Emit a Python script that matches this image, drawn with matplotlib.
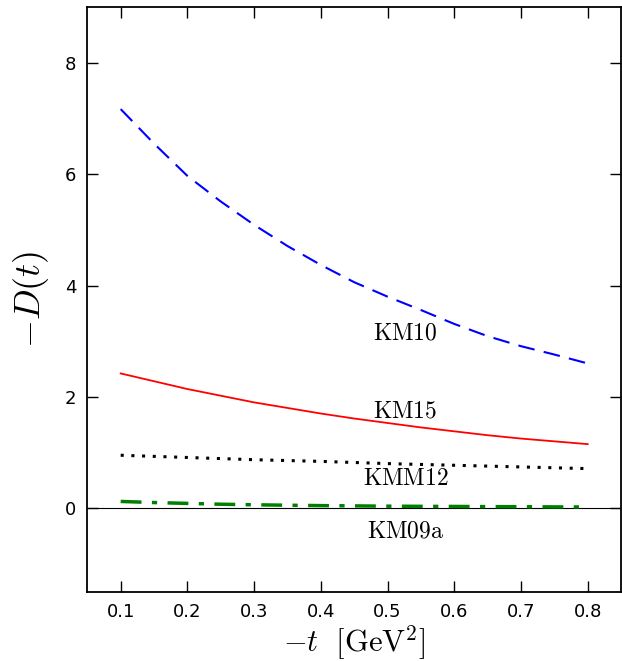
import matplotlib
matplotlib.use("Agg")
import matplotlib.pyplot as plt

plt.rcParams['mathtext.fontset'] = 'cm'

t = [0.1, 0.15, 0.2, 0.25, 0.3, 0.35, 0.4, 0.45, 0.5, 0.55, 0.6, 0.65, 0.7, 0.75, 0.8]
km10 = [7.17, 6.55, 5.97, 5.51, 5.09, 4.71, 4.37, 4.06, 3.80, 3.56, 3.31, 3.09, 2.91, 2.76, 2.60]
km15 = [2.42, 2.28, 2.14, 2.02, 1.90, 1.80, 1.70, 1.61, 1.53, 1.45, 1.38, 1.31, 1.25, 1.20, 1.15]
kmm12 = [0.95, 0.93, 0.91, 0.89, 0.87, 0.855, 0.84, 0.82, 0.80, 0.785, 0.77, 0.755, 0.74, 0.725, 0.71]
km09a = [0.12, 0.10, 0.085, 0.07, 0.06, 0.052, 0.045, 0.04, 0.035, 0.032, 0.03, 0.027, 0.025, 0.022, 0.02]

labels = ['KM10', 'KM15', 'KMM12', 'KM09a']
label_pos = [(0.527, 3.15), (0.527, 1.76), (0.527, 0.54), (0.527, -0.40)]

fig = plt.figure(figsize=(6.22, 6.61), dpi=100)
ax = fig.add_axes([0.1404, 0.105, 0.858, 0.884])

ax.axhline(0, color='black', lw=0.8)
ax.plot(t, km10, color='blue', ls=(0, (8, 4.5)), lw=1.5)
ax.plot(t, km15, color='red', ls='-', lw=1.3)
ax.plot(t, kmm12, color='black', ls=(0, (1, 2.5)), lw=2.2)
ax.plot(t, km09a, color='green', ls=(0, (6, 3, 1.5, 3)), lw=2.5)

for lab, (x, y) in zip(labels, label_pos):
    ax.text(x, y, r'$\mathrm{%s}$' % lab, fontsize=17, ha='center', va='center')

ax.set_xlim(0.05, 0.85)
ax.set_ylim(-1.5, 9)
ax.set_xticks([0.1, 0.2, 0.3, 0.4, 0.5, 0.6, 0.7, 0.8])
ax.set_yticks([0, 2, 4, 6, 8])
ax.tick_params(direction='in', top=True, right=True, length=8, width=1, labelsize=13, pad=8)
for s in ax.spines.values():
    s.set_linewidth(1.3)

ax.set_xlabel(r'$-t\ \ [\mathrm{GeV}^2]$', fontsize=22, labelpad=2)
ax.set_ylabel(r'$-D(t)$', fontsize=26, labelpad=10)

fig.savefig('out.png', dpi=100)
